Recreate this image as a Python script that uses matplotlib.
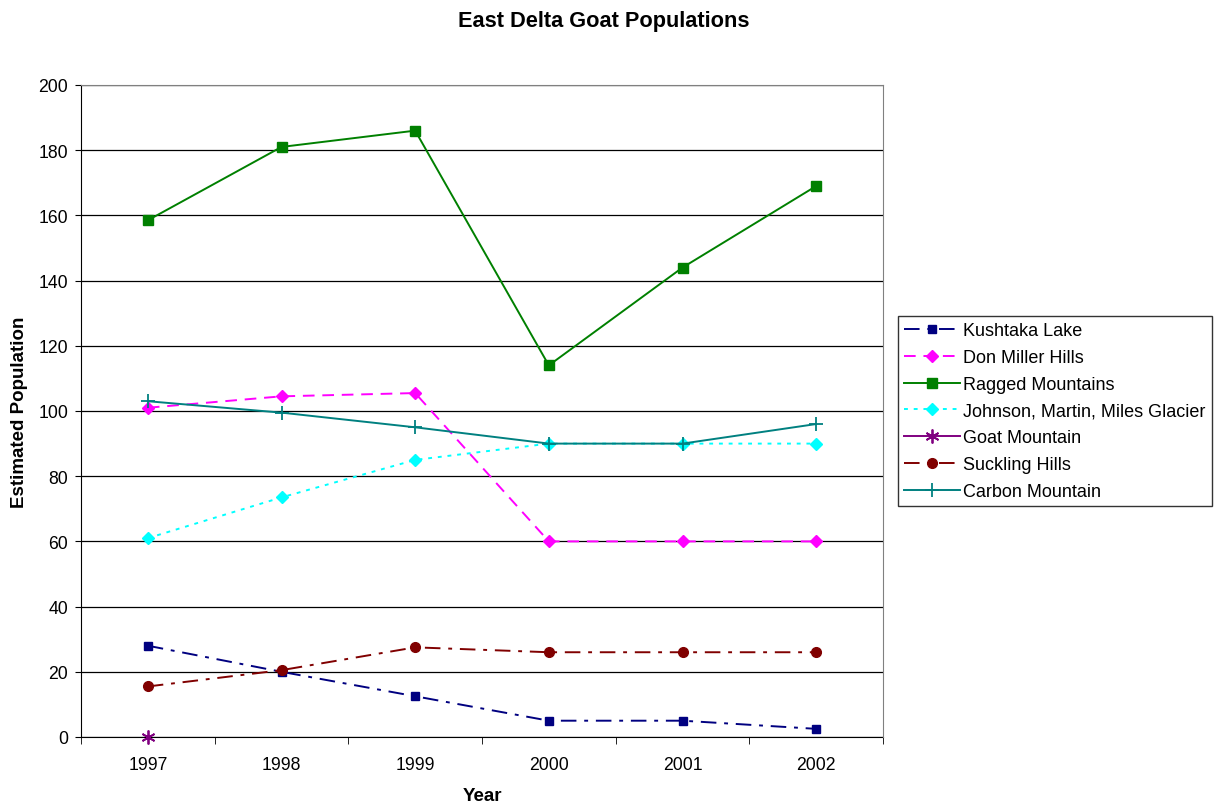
import matplotlib
matplotlib.use("Agg")
import matplotlib.pyplot as plt
from matplotlib.ticker import FixedLocator, NullFormatter

plt.rcParams['font.family'] = ['Liberation Sans', 'DejaVu Sans']

years = ["1997", "1998", "1999", "2000", "2001", "2002"]

kushtaka_lake = [28, 20, 12.5, 5, 5, 2.5]
don_miller_hills = [101, 104.5, 105.5, 60, 60, 60]
ragged_mountains = [158.5, 181, 186, 114, 144, 169]
johnson_martin_miles = [61, 73.5, 85, 90, 90, 90]
goat_mountain = [0, None, None, None, None, None]
suckling_hills = [15.5, 20.5, 27.5, 26, 26, 26]
carbon_mountain = [103, 99.5, 95, 90, 90, 96]

series = [
    ("Kushtaka Lake", kushtaka_lake, dict(color="#000080", linestyle=(0, (8, 4, 2, 4)), marker="s", markersize=6)),
    ("Don Miller Hills", don_miller_hills, dict(color="#FF00FF", linestyle=(0, (6, 4)), marker="D", markersize=6)),
    ("Ragged Mountains", ragged_mountains, dict(color="#008000", linestyle="-", marker="s", markersize=7)),
    ("Johnson, Martin, Miles Glacier", johnson_martin_miles, dict(color="#00FFFF", linestyle=(0, (2, 3)), marker="D", markersize=6)),
    ("Goat Mountain", goat_mountain, dict(color="#800080", linestyle="-", marker=(6, 2, 0), markersize=10, markeredgewidth=1.3)),
    ("Suckling Hills", suckling_hills, dict(color="#800000", linestyle=(0, (8, 4, 2, 4)), marker="o", markersize=7)),
    ("Carbon Mountain", carbon_mountain, dict(color="#008080", linestyle="-", marker="+", markersize=10, markeredgewidth=1.3)),
]

fig = plt.figure(figsize=(12.15, 8.04), dpi=100)
ax = fig.add_axes([81 / 1215, 1 - 738 / 804, (883 - 81) / 1215, (738 - 86) / 804])

x = list(range(len(years)))
for name, vals, style in series:
    xs = [xi for xi, v in zip(x, vals) if v is not None]
    ys = [v for v in vals if v is not None]
    ax.plot(xs, ys, label=name, linewidth=1.4, clip_on=False, zorder=3, **style)

ax.set_xlim(-0.5, len(years) - 0.5)
ax.set_ylim(0, 200)
ax.set_yticks(range(0, 201, 20))
ax.yaxis.grid(True, color="black", linewidth=0.9)
ax.set_axisbelow(True)

ax.set_xticks(x)
ax.set_xticklabels(years)
ax.tick_params(axis="x", which="major", length=0, pad=14, labelsize=12.7)
ax.xaxis.set_minor_locator(FixedLocator([i - 0.5 for i in range(len(years) + 1)]))
ax.xaxis.set_minor_formatter(NullFormatter())
ax.tick_params(axis="x", which="minor", length=5, direction="out", color="black")
ax.tick_params(axis="y", length=4.3, direction="out", labelsize=12.7, pad=5)

for side in ("top", "right"):
    ax.spines[side].set_color("#808080")
for side in ("left", "bottom"):
    ax.spines[side].set_color("black")
    ax.spines[side].set_zorder(2)

ax.set_xlabel("Year", fontsize=13.5, fontweight="bold", labelpad=10)
ax.set_ylabel("Estimated Population", fontsize=13.5, fontweight="bold", labelpad=7)
fig.text(604 / 1215, 1 - 21 / 804, "East Delta Goat Populations",
         ha="center", va="center", fontsize=15.7, fontweight="bold")

leg = ax.legend(loc="upper left", bbox_to_anchor=(898 / 1215, 1 - 317 / 804),
                bbox_transform=fig.transFigure, fontsize=13, frameon=True,
                fancybox=False, edgecolor="black", handlelength=3.1,
                labelspacing=0.54, borderpad=0.35, borderaxespad=0,
                handletextpad=0.15)
leg.get_frame().set_linewidth(1.0)

fig.savefig("out.png", dpi=100, facecolor="white")
